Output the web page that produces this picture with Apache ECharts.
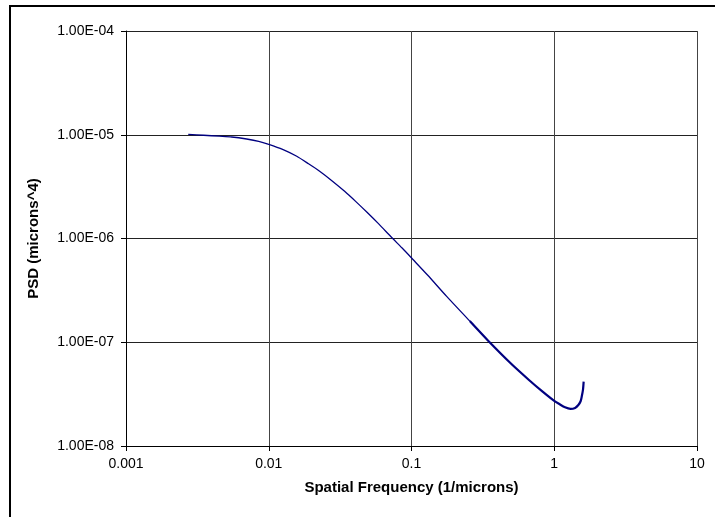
<!DOCTYPE html>
<html>
<head>
<meta charset="utf-8">
<script src="https://cdn.jsdelivr.net/npm/echarts@6/dist/echarts.min.js"></script>
<style>
  html, body { margin: 0; padding: 0; background: #fff; }
  #chart { width: 715px; height: 517px; }
</style>
</head>
<body>
<div id="chart"></div>
<script>
// Spatial frequency (1/microns) and power spectral density (microns^4)
const freq = [
  0.00273, 0.0035, 0.0045, 0.0055, 0.0070, 0.0085, 0.0100, 0.0125, 0.0156, 0.0190,
  0.0226, 0.0281, 0.0340, 0.0406, 0.0490, 0.0587, 0.0733, 0.0860, 0.102, 0.130,
  0.177, 0.256, 0.343, 0.495, 0.665, 0.829, 1.0, 1.084, 1.19, 1.30,
  1.40, 1.475, 1.53, 1.557, 1.59, 1.607
];
const psd = [
  1.01e-5, 9.89e-6, 9.68e-6, 9.51e-6, 9.10e-6, 8.65e-6, 8.09e-6, 7.24e-6, 6.24e-6, 5.25e-6,
  4.47e-6, 3.55e-6, 2.85e-6, 2.28e-6, 1.78e-6, 1.39e-6, 1.01e-6, 8.09e-7, 6.31e-7, 4.42e-7,
  2.75e-7, 1.60e-7, 1.04e-7, 6.27e-8, 4.33e-8, 3.34e-8, 2.72e-8, 2.54e-8, 2.36e-8, 2.28e-8,
  2.33e-8, 2.48e-8, 2.7e-8, 2.98e-8, 3.5e-8, 4.17e-8
];
// the high-frequency tail is drawn with a heavier stroke (dense samples there)
const tailStart = 21;

const xTickLabels = ['0.001', '0.01', '0.1', '1', '10'];
const yTickLabels = ['1.00E-08', '1.00E-07', '1.00E-06', '1.00E-05', '1.00E-04'];

const points = freq.map((f, i) => [f, psd[i]]);
const headPts = points.slice(0, tailStart + 1);
const tailPts = points.slice(tailStart);

const chart = echarts.init(document.getElementById('chart'), null, { renderer: 'canvas' });

const FONT = 'Liberation Sans, Arial, sans-serif';
const labelFont = { fontFamily: FONT, fontSize: 14, color: '#000' };
const titleFont = { fontFamily: FONT, fontSize: 15, fontWeight: 'bold', color: '#000' };

chart.setOption({
  animation: false,
  backgroundColor: '#fff',
  grid: { left: 126, right: 18, top: 31, bottom: 71, containLabel: false },
  graphic: [{
    type: 'rect',
    shape: { x: 10, y: 6, width: 730, height: 530 },
    style: { fill: 'none', stroke: '#000', lineWidth: 2 },
    silent: true
  }],
  xAxis: {
    type: 'log',
    logBase: 10,
    min: 0.001,
    max: 10,
    name: 'Spatial Frequency (1/microns)',
    nameLocation: 'middle',
    nameGap: 34,
    nameTextStyle: titleFont,
    axisLine: { show: true, onZero: false, lineStyle: { color: '#000', width: 1 } },
    axisTick: { show: true, inside: false, length: 5, lineStyle: { color: '#000' } },
    minorTick: { show: false },
    axisLabel: Object.assign({
      margin: 11,
      formatter: v => xTickLabels[Math.round(Math.log10(v)) + 3]
    }, labelFont),
    splitLine: { show: true, lineStyle: { color: '#444', width: 1 } }
  },
  yAxis: {
    type: 'log',
    logBase: 10,
    min: 1e-8,
    max: 1e-4,
    name: 'PSD (microns^4)',
    nameLocation: 'middle',
    nameGap: 85,
    nameRotate: 90,
    nameTextStyle: titleFont,
    axisLine: { show: true, onZero: false, lineStyle: { color: '#000', width: 1 } },
    axisTick: { show: true, inside: false, length: 5, lineStyle: { color: '#000' } },
    minorTick: { show: false },
    axisLabel: Object.assign({
      margin: 12,
      formatter: v => yTickLabels[Math.round(Math.log10(v)) + 8]
    }, labelFont),
    splitLine: { show: true, lineStyle: { color: '#222', width: 1 } }
  },
  series: [
    {
      type: 'line',
      data: headPts,
      showSymbol: false,
      smooth: 0.25,
      lineStyle: { color: '#000080', width: 1.3 }
    },
    {
      type: 'line',
      data: tailPts,
      showSymbol: false,
      smooth: 0.25,
      lineStyle: { color: '#000080', width: 2.2 }
    }
  ]
});
</script>
</body>
</html>
